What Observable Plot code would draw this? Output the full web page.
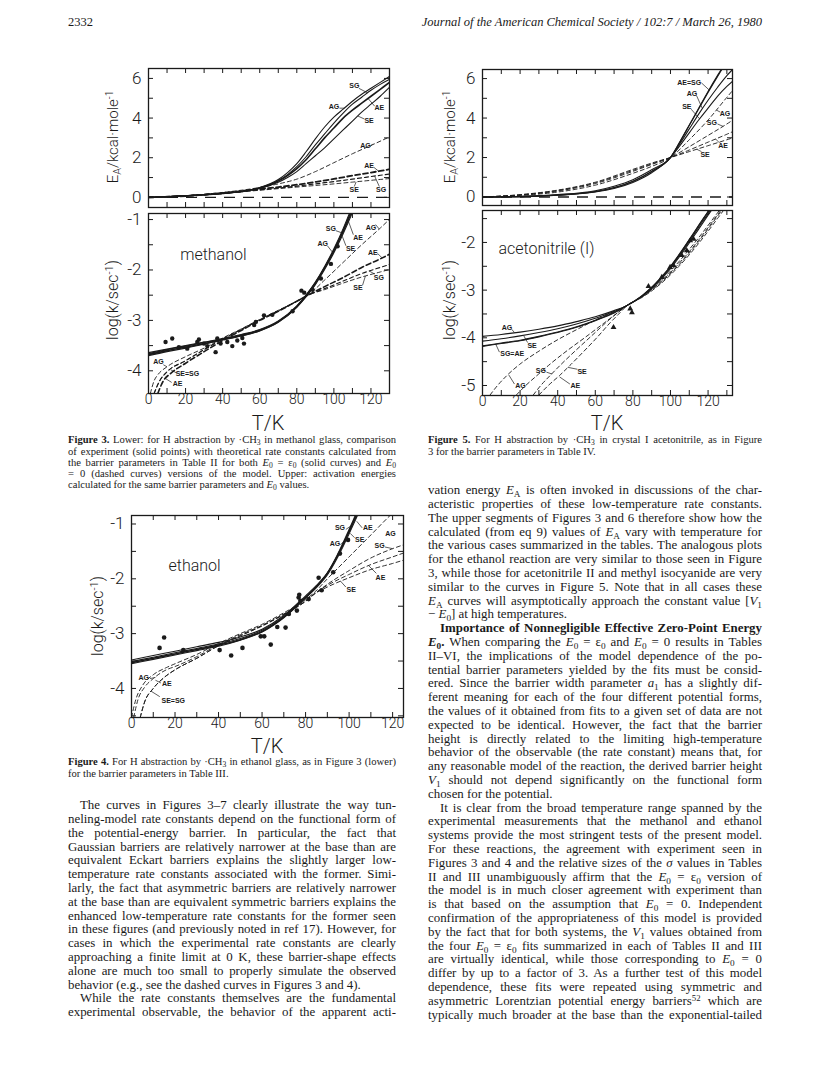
<!DOCTYPE html>
<html><head><meta charset="utf-8">
<script src="https://cdn.jsdelivr.net/npm/d3@7"></script>
<script src="https://cdn.jsdelivr.net/npm/@observablehq/plot@0.6"></script>
<style>
html,body{margin:0;padding:0;background:#fff}
body{position:relative;width:831px;height:1075px;overflow:hidden;color:#1a1a1a;font-family:"Liberation Serif","Times New Roman",serif}
.t{position:absolute;white-space:nowrap}
.j{text-align:justify;text-align-last:justify}
.l{text-align:left;text-align-last:left}
.r{text-align:right;text-align-last:right}
sub{font-size:72%;vertical-align:-0.28em;line-height:0}
sup{font-size:68%;vertical-align:0.45em;line-height:0}
.sans{font-family:Roboto,"Liberation Sans",Arial,sans-serif;font-weight:300}
.rot{position:absolute;transform:translate(-50%,-50%) rotate(-90deg);white-space:nowrap;line-height:1}
svg{position:absolute}
</style></head><body>
<script>
const INK = "#1a1a1a";
const SANS = "Roboto, 'Liberation Sans', Arial, sans-serif";

// ---------------- Figure 3 (methanol) : upper, activation energy ----------------
const f3tT   = [0, 20, 40, 50, 60, 70, 75, 80, 85, 90, 95, 100, 105, 110, 115, 120, 125, 130];
const f3tAG  = [0, .08, .2, .3, .5, .9, 1.25, 1.7, 2.3, 2.95, 3.55, 4.05, 4.45, 4.85, 5.2, 5.5, 5.8, 6.1];
const f3tSG  = [0, .08, .2, .3, .48, .85, 1.15, 1.55, 2.05, 2.65, 3.2, 3.75, 4.25, 4.7, 5.05, 5.4, 5.7, 5.95];
const f3tAE  = [0, .08, .2, .3, .47, .82, 1.1, 1.45, 1.9, 2.45, 3.0, 3.5, 4.0, 4.4, 4.75, 5.1, 5.45, 5.8];
const f3tSE  = [0, .08, .2, .3, .45, .76, 1.0, 1.3, 1.7, 2.1, 2.5, 2.95, 3.4, 3.85, 4.3, 4.7, 5.1, 5.55];
const f3tdT  = [0, 20, 40, 60, 70, 80, 90, 100, 110, 120, 130];
const f3tdAG = [0, .08, .25, .5, .68, .92, 1.3, 1.75, 2.2, 2.62, 3.05];
const f3tdAE = [0, .07, .22, .42, .52, .64, .78, .93, 1.1, 1.25, 1.42];
const f3tdSG = [0, .07, .21, .38, .47, .57, .68, .8, .92, 1.05, 1.18];
const f3tdSE = [0, .07, .2, .36, .44, .52, .6, .68, .77, .86, .95];
const f3tLabels  = [["SG",111,5.65],["AG",100,4.55],["AE",124.5,4.5],["SE",119,3.85],["AG",117,2.6],["AE",119,1.6],["SE",111,0.38],["SG",125.5,0.38]];
const f3tLeaders = [[113.5,5.5,118.2,5.27],[103,4.5,105.6,4.5],[122,4.6,118.5,4.98],[116.5,3.95,113,4.1],[119.5,2.55,121,2.7],[121.5,1.52,124,1.33],[111,0.55,112,0.78],[124.5,0.55,122,1.07]];

// ---------------- Figure 3 (methanol) : lower, log k ----------------
const f3bT   = [0, 10, 20, 30, 40, 50, 60, 70, 80, 85, 90, 95, 100, 105, 110, 115];
const f3bSG  = [-3.66,-3.58,-3.51,-3.44,-3.37,-3.29,-3.19,-3.02,-2.72,-2.50,-2.24,-1.93,-1.58,-1.18,-0.72,-0.2];
const f3bAE  = [-3.68,-3.60,-3.53,-3.46,-3.38,-3.30,-3.20,-3.03,-2.73,-2.52,-2.27,-1.96,-1.62,-1.22,-0.77,-0.25];
const f3bAG  = [-3.64,-3.57,-3.50,-3.43,-3.36,-3.28,-3.18,-3.01,-2.71,-2.50,-2.25,-1.95,-1.61,-1.24,-0.82,-0.32];
const f3bSE  = [-3.70,-3.62,-3.55,-3.47,-3.39,-3.31,-3.21,-3.04,-2.74,-2.53,-2.29,-1.99,-1.66,-1.28,-0.86,-0.38];
const f3bdAGT = [1, 3, 5, 10, 20, 30, 40, 50, 60, 70, 80, 86, 95, 105, 115, 125, 131];
const f3bdAG  = [-4.45,-4.2,-4.08,-3.92,-3.72,-3.55,-3.35,-3.17,-2.98,-2.8,-2.62,-2.5,-2.2,-1.85,-1.5,-1.17,-0.96];
const f3bdAET = [5, 8, 12, 20, 30, 40, 50, 60, 70, 80, 86, 95, 105, 115, 125, 131];
const f3bdAE  = [-4.45,-4.2,-4.05,-3.85,-3.62,-3.4,-3.2,-3.0,-2.82,-2.62,-2.5,-2.33,-2.15,-1.95,-1.78,-1.67];
const f3bdST  = [3, 6, 10, 20, 30, 40, 50, 60, 70, 80, 86, 95, 105, 115, 125, 131];
const f3bdSG  = [-4.45,-4.2,-4.02,-3.8,-3.58,-3.37,-3.18,-2.99,-2.81,-2.62,-2.5,-2.37,-2.22,-2.07,-1.95,-1.88];
const f3bdSE  = [-4.45,-4.2,-4.02,-3.8,-3.58,-3.37,-3.18,-2.99,-2.81,-2.62,-2.5,-2.39,-2.26,-2.14,-2.04,-1.98];
const methanolPts = [[9.2,-3.43],[12.8,-3.36],[16.4,-3.53],[20.9,-3.56],[26.3,-3.43],[27.2,-3.38],[29.9,-3.46],[31.7,-3.51],[36.2,-3.63],[37.1,-3.36],[38.9,-3.46],[42.5,-3.43],[45.2,-3.51],[47.9,-3.40],[50.6,-3.35],[51.5,-3.46],[57,-3.09],[57.9,-3.03],[62.3,-2.90],[66.8,-2.89],[77.7,-2.82],[82.5,-2.41],[84,-2.45],[88.5,-2.39],[93,-2.17],[98.4,-1.88],[102,-1.53]];
const f3bLabels  = [["SG",98.4,-1.18],["AE",113,-1.36],["AG",94,-1.48],["SE",109,-1.57],["AG",120,-1.16],["AE",121,-1.65],["SG",124.3,-2.15],["SE",113,-2.35],["AG",5.4,-3.83],["SE=SG",21,-4.05],["AE",15.7,-4.25]];
const f3bLeaders = [[101,-1.22,104,-1.26],[110.5,-1.3,107.5,-1.0],[96.5,-1.52,99.5,-1.66],[106.5,-1.52,104.5,-1.33],[122.5,-1.1,124.5,-1.19],[123.5,-1.67,126,-1.76],[122,-2.08,119,-2.02],[115.5,-2.3,117,-2.12],[8,-3.88,10,-3.92],[15.5,-4.05,12,-3.98],[12.5,-4.23,9,-4.15]];

// ---------------- Figure 5 (acetonitrile I) : upper ----------------
const f5tT   = [0, 20, 40, 60, 70, 80, 90, 100, 105, 110, 115, 120, 125, 130, 134];
const f5tAE  = [0, .02, .1, .28, .48, .8, 1.3, 2.0, 2.8, 3.65, 4.5, 5.35, 6.15, 6.9, 7.4];
const f5tSG  = [0, .02, .1, .27, .47, .79, 1.29, 2.0, 2.78, 3.62, 4.46, 5.3, 6.1, 6.85, 7.35];
const f5tAG  = [0, .03, .12, .32, .55, .88, 1.38, 2.0, 2.7, 3.45, 4.2, 4.9, 5.55, 6.15, 6.55];
const f5tSE  = [0, .02, .09, .25, .43, .74, 1.23, 2.0, 2.6, 3.25, 3.9, 4.5, 5.1, 5.6, 5.95];
const f5tdT  = [0, 20, 40, 60, 80, 90, 100, 110, 120, 130, 134];
const f5tdAG = [0, .08, .25, .6, 1.2, 1.55, 2.0, 2.9, 3.9, 5.05, 5.5];
const f5tdSG = [0, .1, .3, .68, 1.3, 1.65, 2.0, 2.55, 3.12, 3.7, 3.95];
const f5tdAE = [0, .11, .33, .72, 1.35, 1.68, 2.0, 2.38, 2.78, 3.18, 3.35];
const f5tdSE = [0, .12, .35, .75, 1.4, 1.72, 2.0, 2.3, 2.6, 2.9, 3.02];
const f5tLabels  = [["AE=SG",110,5.81],["AG",111.4,5.22],["SE",108.7,4.55],["AG",129,4.24],["SG",122,3.74],["AE",128,2.6],["SE",118.4,2.15]];
const f5tLeaders = [[116.5,5.78,120.5,5.43],[113.8,5.15,117,4.48],[111,4.45,115.5,3.96],[126.5,4.3,124.5,4.4],[125,3.7,128,3.58],[126,2.75,124,2.94],[116.5,2.3,114,2.42]];

// ---------------- Figure 5 (acetonitrile I) : lower ----------------
const f5bT    = [0, 10, 20, 30, 40, 50, 60, 70, 77, 85, 90, 95, 100, 105, 110, 115, 120, 125, 128];
const f5bAG   = [-3.97,-3.93,-3.88,-3.82,-3.75,-3.66,-3.56,-3.43,-3.32,-3.12,-2.95,-2.75,-2.52,-2.26,-1.98,-1.68,-1.40,-1.10,-0.95];
const f5bSE   = [-4.07,-4.02,-3.96,-3.89,-3.81,-3.71,-3.59,-3.45,-3.32,-3.13,-2.97,-2.77,-2.55,-2.29,-2.01,-1.72,-1.43,-1.14,-0.98];
const f5bSG   = [-4.17,-4.11,-4.05,-3.97,-3.88,-3.77,-3.63,-3.47,-3.32,-3.11,-2.94,-2.73,-2.50,-2.23,-1.94,-1.64,-1.35,-1.05,-0.90];
const f5bAE   = [-4.18,-4.12,-4.06,-3.98,-3.89,-3.78,-3.64,-3.48,-3.32,-3.12,-2.95,-2.74,-2.51,-2.24,-1.95,-1.65,-1.36,-1.06,-0.91];
const f5bdAGT = [4, 8, 13, 20, 30, 40, 50, 60, 70, 77, 85, 95, 105, 115, 125, 130];
const f5bdAG  = [-5.2,-5.0,-4.79,-4.55,-4.28,-4.04,-3.83,-3.63,-3.45,-3.32,-3.12,-2.8,-2.38,-1.9,-1.38,-1.12];
const f5bdSGT = [18, 23, 29, 36, 45, 55, 65, 72, 77, 85, 95, 105, 115, 125, 130];
const f5bdSG  = [-5.2,-5.0,-4.79,-4.55,-4.27,-3.98,-3.68,-3.47,-3.32,-3.13,-2.82,-2.42,-1.95,-1.42,-1.15];
const f5bdAET = [27, 31, 36, 42, 50, 58, 66, 72, 77, 85, 95, 105, 115, 125, 130];
const f5bdAE  = [-5.2,-5.0,-4.79,-4.55,-4.25,-3.96,-3.67,-3.47,-3.32,-3.14,-2.84,-2.45,-1.98,-1.45,-1.18];
const f5bdSET = [30, 35, 41, 47, 54, 61, 68, 73, 77, 85, 95, 105, 115, 125, 130];
const f5bdSE  = [-5.2,-5.0,-4.79,-4.56,-4.28,-3.99,-3.68,-3.48,-3.32,-3.15,-2.86,-2.48,-2.02,-1.5,-1.23];
const acetoPts = [[69.7,-3.78],[78.6,-3.39],[79.5,-3.47],[88.3,-2.92],[95.4,-2.73],[99.8,-2.52],[101.6,-2.48],[106,-2.27],[108.7,-2.17],[110.5,-1.96],[112.3,-1.93]];
const f5bLabels  = [["AG",13,-3.78],["SE",26.4,-4.16],["SG=AE",15.8,-4.33],["SG",31,-4.7],["SE",53,-4.72],["AG",20.2,-5.0],["AE",49.4,-5.0]];
const f5bLeaders = [[15.5,-3.82,17,-3.89],[24,-4.1,22,-3.96],[9,-4.3,7,-4.13],[34,-4.72,37,-4.76],[50.5,-4.66,45.5,-4.62],[17,-4.97,14,-4.78],[46.5,-4.97,41,-4.82]];

// ---------------- Figure 4 (ethanol) ----------------
const f4T   = [0, 10, 20, 30, 40, 50, 60, 70, 80, 85, 90, 95, 100, 103, 106];
const f4AG  = [-3.48,-3.40,-3.32,-3.24,-3.16,-3.06,-2.92,-2.67,-2.31,-2.12,-1.89,-1.55,-1.15,-0.89,-0.62];
const f4SG  = [-3.51,-3.43,-3.35,-3.27,-3.19,-3.09,-2.94,-2.69,-2.33,-2.14,-1.90,-1.55,-1.13,-0.86,-0.58];
const f4AE  = [-3.53,-3.45,-3.37,-3.29,-3.21,-3.11,-2.96,-2.70,-2.34,-2.14,-1.90,-1.54,-1.11,-0.84,-0.55];
const f4SE  = [-3.55,-3.47,-3.39,-3.31,-3.23,-3.12,-2.97,-2.71,-2.35,-2.16,-1.93,-1.59,-1.18,-0.92,-0.65];
const f4dAGT = [0, 2, 5, 10, 16, 20, 30, 40, 50, 60, 70, 80, 84, 90, 100, 110, 120, 125];
const f4dAG  = [-4.53,-4.2,-3.95,-3.75,-3.62,-3.55,-3.38,-3.18,-3.0,-2.83,-2.62,-2.38,-2.25,-2.0,-1.6,-1.2,-0.8,-0.62];
const f4dAET = [1, 3, 6, 10, 16, 20, 30, 40, 50, 60, 70, 80, 84, 90, 100, 110, 120, 125];
const f4dAE  = [-4.53,-4.2,-3.98,-3.82,-3.66,-3.6,-3.42,-3.2,-3.02,-2.85,-2.64,-2.4,-2.27,-2.12,-1.92,-1.74,-1.6,-1.53];
const f4dST  = [4, 6, 10, 15, 20, 30, 40, 50, 60, 70, 80, 84, 90, 100, 110, 120, 125];
const f4dSG  = [-4.53,-4.25,-4.0,-3.8,-3.66,-3.45,-3.22,-3.04,-2.86,-2.65,-2.41,-2.28,-2.1,-1.85,-1.62,-1.45,-1.38];
const f4dSE  = [-4.53,-4.25,-4.0,-3.8,-3.66,-3.45,-3.22,-3.04,-2.86,-2.65,-2.41,-2.28,-2.15,-1.98,-1.83,-1.72,-1.66];
const ethanolPts = [[12.9,-3.26],[15,-3.07],[23.8,-3.30],[40.5,-3.30],[45.8,-3.40],[51,-3.26],[59.4,-3.05],[61,-3.05],[64,-3.20],[67,-2.88],[70.8,-2.89],[72.3,-2.64],[76,-2.58],[76.8,-2.34],[77.1,-2.29],[77.6,-2.40],[81.4,-2.37],[86,-1.98],[87.4,-2.21],[92.7,-1.88],[95.8,-1.54],[99.5,-1.29]];
const f4Labels  = [["SG",95.8,-1.06],["AE",108.6,-1.06],["AG",93.5,-1.36],["SE",104.9,-1.29],["AG",119,-1.18],["SG",114,-1.39],["AE",114.4,-1.98],["SE",101,-2.2],["AG",5.6,-3.8],["AE",16.2,-3.92],["SE=SG",19.2,-4.22]];
const f4Leaders = [[98.5,-1.1,101,-1.03],[106,-1.07,103.5,-0.95],[96,-1.38,98,-1.3],[102.5,-1.25,100.5,-1.17],[116.5,-1.42,120,-1.45],[112.5,-1.9,109,-1.76],[98.5,-2.15,96,-2.04],[8.5,-3.82,11,-3.8],[13.5,-3.9,11,-3.85],[13,-4.15,9,-4.05]];

const xTickVals = [0,10,20,30,40,50,60,70,80,90,100,110,120,130];
const xLabelVals = [0,20,40,60,80,100,120];

// ---------------- text ----------------
const headerLeft = "2332";
const headerRight = "Journal of the American Chemical Society / 102:7 / March 26, 1980";
const cap3 = [
 "<b>Figure 3.</b> Lower: for H abstraction by ·CH<sub>3</sub> in methanol glass, comparison",
 "of experiment (solid points) with theoretical rate constants calculated from",
 "the barrier parameters in Table II for both <i>E</i><sub>0</sub> = ε<sub>0</sub> (solid curves) and <i>E</i><sub>0</sub>",
 "= 0 (dashed curves) versions of the model. Upper: activation energies",
 "calculated for the same barrier parameters and <i>E</i><sub>0</sub> values.¶"];
const cap5 = [
 "<b>Figure 5.</b> For H abstraction by ·CH<sub>3</sub> in crystal I acetonitrile, as in Figure",
 "3 for the barrier parameters in Table IV.¶"];
const cap4 = [
 "<b>Figure 4.</b> For H abstraction by ·CH<sub>3</sub> in ethanol glass, as in Figure 3 (lower)",
 "for the barrier parameters in Table III.¶"];
const leftBody = [
 "»The curves in Figures 3–7 clearly illustrate the way tun-",
 "neling-model rate constants depend on the functional form of",
 "the potential-energy barrier. In particular, the fact that",
 "Gaussian barriers are relatively narrower at the base than are",
 "equivalent Eckart barriers explains the slightly larger low-",
 "temperature rate constants associated with the former. Simi-",
 "larly, the fact that asymmetric barriers are relatively narrower",
 "at the base than are equivalent symmetric barriers explains the",
 "enhanced low-temperature rate constants for the former seen",
 "in these figures (and previously noted in ref 17). However, for",
 "cases in which the experimental rate constants are clearly",
 "approaching a finite limit at 0 K, these barrier-shape effects",
 "alone are much too small to properly simulate the observed",
 "behavior (e.g., see the dashed curves in Figures 3 and 4).¶",
 "»While the rate constants themselves are the fundamental",
 "experimental observable, the behavior of the apparent acti-"];
const rightBody = [
 "vation energy <i>E</i><sub>A</sub> is often invoked in discussions of the char-",
 "acteristic properties of these low-temperature rate constants.",
 "The upper segments of Figures 3 and 6 therefore show how the",
 "calculated (from eq 9) values of <i>E</i><sub>A</sub> vary with temperature for",
 "the various cases summarized in the tables. The analogous plots",
 "for the ethanol reaction are very similar to those seen in Figure",
 "3, while those for acetonitrile II and methyl isocyanide are very",
 "similar to the curves in Figure 5. Note that in all cases these",
 "<i>E</i><sub>A</sub> curves will asymptotically approach the constant value [<i>V</i><sub>1</sub>",
 "− <i>E</i><sub>0</sub>] at high temperatures.¶",
 "»<b>Importance of Nonnegligible Effective Zero-Point Energy</b>",
 "<b><i>E</i><sub>0</sub>.</b> When comparing the <i>E</i><sub>0</sub> = ε<sub>0</sub> and <i>E</i><sub>0</sub> = 0 results in Tables",
 "II–VI, the implications of the model dependence of the po-",
 "tential barrier parameters yielded by the fits must be consid-",
 "ered. Since the barrier width parameter <i>a</i><sub>1</sub> has a slightly dif-",
 "ferent meaning for each of the four different potential forms,",
 "the values of it obtained from fits to a given set of data are not",
 "expected to be identical. However, the fact that the barrier",
 "height is directly related to the limiting high-temperature",
 "behavior of the observable (the rate constant) means that, for",
 "any reasonable model of the reaction, the derived barrier height",
 "<i>V</i><sub>1</sub> should not depend significantly on the functional form",
 "chosen for the potential.¶",
 "»It is clear from the broad temperature range spanned by the",
 "experimental measurements that the methanol and ethanol",
 "systems provide the most stringent tests of the present model.",
 "For these reactions, the agreement with experiment seen in",
 "Figures 3 and 4 and the relative sizes of the <i>σ</i> values in Tables",
 "II and III unambiguously affirm that the <i>E</i><sub>0</sub> = ε<sub>0</sub> version of",
 "the model is in much closer agreement with experiment than",
 "is that based on the assumption that <i>E</i><sub>0</sub> = 0. Independent",
 "confirmation of the appropriateness of this model is provided",
 "by the fact that for both systems, the <i>V</i><sub>1</sub> values obtained from",
 "the four <i>E</i><sub>0</sub> = ε<sub>0</sub> fits summarized in each of Tables II and III",
 "are virtually identical, while those corresponding to <i>E</i><sub>0</sub> = 0",
 "differ by up to a factor of 3. As a further test of this model",
 "dependence, these fits were repeated using symmetric and",
 "asymmetric Lorentzian potential energy barriers<sup>52</sup> which are",
 "typically much broader at the base than the exponential-tailed"];

// ---------------- helpers ----------------
function series(T, V) { return T.map((t, i) => ({T: t, v: V[i]})); }
function addDiv(html, left, cy, width, lh, fs, cls) {
  const d = document.createElement("div");
  d.className = "t " + cls;
  d.style.left = left + "px"; d.style.top = (cy - lh / 2) + "px";
  if (width) d.style.width = width + "px";
  d.style.lineHeight = lh + "px"; d.style.fontSize = fs + "px";
  d.innerHTML = html; document.body.append(d);
  if (width) {
    const sw = d.scrollWidth;
    if (sw > width + 0.5) {
      const n = d.textContent.length;
      d.style.letterSpacing = ((width - sw - 1) / n) + "px";
    }
  }
  return d;
}
function column(lines, left, y0, width, lh, fs, indent) {
  lines.forEach((s, i) => {
    let ind = 0, last = false;
    if (s.startsWith("»")) { ind = indent; s = s.slice(1); }
    if (s.endsWith("¶")) { last = true; s = s.slice(0, -1); }
    addDiv(s, left + ind, y0 + i * lh, width - ind, lh, fs, last ? "l" : "j");
  });
}
function rotLabel(html, cx, cy, fs) {
  const d = document.createElement("div");
  d.className = "rot sans"; d.style.left = cx + "px"; d.style.top = cy + "px"; d.style.fontSize = fs + "px";
  d.innerHTML = html; document.body.append(d);
}
function sansLabel(html, cx, cy, fs) {
  const d = document.createElement("div");
  d.className = "t sans"; d.style.left = cx + "px"; d.style.top = cy + "px"; d.style.fontSize = fs + "px";
  d.style.lineHeight = "1"; d.style.transform = "translate(-50%,-50%)"; d.innerHTML = html; document.body.append(d);
}
const range = (a, b, s) => d3.range(a, b + s / 2, s);

function panel(p) {
  const [fl, ft, fr, fb] = p.frame, [sl, st, sr, sb] = p.box;
  const fw = fr - fl, fh = fb - ft, tk = 5;
  const marks = [];
  marks.push(Plot.tickX(p.xTicks, {x: d => d, insetBottom: fh - tk, stroke: INK, strokeWidth: 1}));
  marks.push(Plot.tickX(p.xTicks, {x: d => d, insetTop: fh - tk, stroke: INK, strokeWidth: 1}));
  marks.push(Plot.tickY(p.yTicks, {y: d => d, insetRight: fw - tk, stroke: INK, strokeWidth: 1}));
  marks.push(Plot.tickY(p.yTicks, {y: d => d, insetLeft: fw - tk, stroke: INK, strokeWidth: 1}));
  if (p.zeroDash) marks.push(Plot.ruleY([0], {stroke: INK, strokeWidth: 1.3, strokeDasharray: "11,8"}));
  for (const c of p.curves)
    marks.push(Plot.line(c.d, {x: "T", y: "v", curve: "monotone-x", stroke: INK, strokeWidth: c.w || 1.1, strokeDasharray: c.dash ? (c.dashStyle || "4,3") : null, clip: true}));
  if (p.points) marks.push(Plot.dot(p.points, {x: d => d[0], y: d => d[1], r: p.pointR || 2.2, fill: INK, stroke: "none", symbol: p.symbol || "circle", clip: true}));
  if (p.leaders) marks.push(Plot.link(p.leaders, {x1: d => d[0], y1: d => d[1], x2: d => d[2], y2: d => d[3], stroke: INK, strokeWidth: 0.7}));
  if (p.labels) marks.push(Plot.text(p.labels, {x: d => d[1], y: d => d[2], text: d => d[0], fontSize: 7, fontWeight: "bold", fontFamily: "'Liberation Sans', Arial, sans-serif", fill: INK}));
  if (p.name) marks.push(Plot.text([p.name], {x: d => d[1], y: d => d[2], text: d => d[0], fontSize: 16, fontFamily: SANS, fontWeight: 300, fill: INK}));
  marks.push(Plot.text(p.yLabels, {y: d => d, text: d => d < 0 ? "-" + (-d) : String(d), frameAnchor: "left", textAnchor: "end", dx: -7, fontSize: 17, fontFamily: SANS, fontWeight: 300, fill: INK}));
  if (p.xLabels) marks.push(Plot.text(p.xLabels, {x: d => d, text: d => String(d), frameAnchor: "bottom", dy: 10, fontSize: 14, fontFamily: SANS, fontWeight: 300, fill: INK}));
  marks.push(Plot.frame({stroke: INK, strokeWidth: 1.3}));
  const svg = Plot.plot({
    width: sr - sl, height: sb - st,
    marginLeft: fl - sl, marginRight: sr - fr, marginTop: ft - st, marginBottom: sb - fb,
    x: {domain: p.xDomain, axis: null}, y: {domain: p.yDomain, axis: null},
    style: {background: "none", color: INK, overflow: "visible", fontFamily: SANS},
    marks
  });
  svg.style.left = sl + "px"; svg.style.top = st + "px";
  document.body.append(svg);
}

// ---------------- panels ----------------
panel({frame: [148, 68, 389, 207], box: [100, 60, 400, 212], xDomain: [0, 130], yDomain: [-0.51, 6.5],
  xTicks: xTickVals, yTicks: range(0, 6, 1), yLabels: [6, 4, 2, 0], zeroDash: true,
  curves: [
    {d: series(f3tT, f3tAG)}, {d: series(f3tT, f3tSG)}, {d: series(f3tT, f3tAE), w: 1.6}, {d: series(f3tT, f3tSE)},
    {d: series(f3tdT, f3tdAG), dash: 1, w: 0.9}, {d: series(f3tdT, f3tdAE), dash: 1, w: 1.8, dashStyle: "5,3"},
    {d: series(f3tdT, f3tdSG), dash: 1, w: 1.2}, {d: series(f3tdT, f3tdSE), dash: 1, w: 0.9}],
  labels: f3tLabels, leaders: f3tLeaders});

panel({frame: [148, 213, 389, 393], box: [100, 209, 400, 412], xDomain: [0, 130], yDomain: [-4.45, -0.88],
  xTicks: xTickVals, yTicks: range(-4, -1, 0.5), yLabels: [-1, -2, -3, -4], xLabels: xLabelVals,
  curves: [
    {d: series(f3bT, f3bSG)}, {d: series(f3bT, f3bAE), w: 1.6}, {d: series(f3bT, f3bAG)}, {d: series(f3bT, f3bSE)},
    {d: series(f3bdAGT, f3bdAG), dash: 1, w: 0.9}, {d: series(f3bdAET, f3bdAE), dash: 1, w: 1.6, dashStyle: "5,3"},
    {d: series(f3bdST, f3bdSG), dash: 1, w: 1.1}, {d: series(f3bdST, f3bdSE), dash: 1, w: 0.9}],
  points: methanolPts, pointR: 2.2, labels: f3bLabels, leaders: f3bLeaders, name: ["methanol", 35, -1.71]});

panel({frame: [482, 69, 732, 205], box: [434, 61, 745, 210], xDomain: [0, 133], yDomain: [-0.43, 6.46],
  xTicks: xTickVals, yTicks: range(0, 6, 1), yLabels: [6, 4, 2, 0], zeroDash: true,
  curves: [
    {d: series(f5tT, f5tAE)}, {d: series(f5tT, f5tSG)}, {d: series(f5tT, f5tAG)}, {d: series(f5tT, f5tSE)},
    {d: series(f5tdT, f5tdAG), dash: 1, w: 0.9}, {d: series(f5tdT, f5tdSG), dash: 1, w: 0.9},
    {d: series(f5tdT, f5tdAE), dash: 1, w: 0.9}, {d: series(f5tdT, f5tdSE), dash: 1, w: 0.9}],
  labels: f5tLabels, leaders: f5tLeaders});

panel({frame: [482, 210, 732, 395], box: [434, 206, 745, 412], xDomain: [0, 133], yDomain: [-5.21, -1.33],
  xTicks: xTickVals, yTicks: range(-5, -1.5, 0.5), yLabels: [-2, -3, -4, -5], xLabels: xLabelVals,
  curves: [
    {d: series(f5bT, f5bAG)}, {d: series(f5bT, f5bSE)}, {d: series(f5bT, f5bSG)}, {d: series(f5bT, f5bAE)},
    {d: series(f5bdAGT, f5bdAG), dash: 1, w: 0.9}, {d: series(f5bdSGT, f5bdSG), dash: 1, w: 0.9},
    {d: series(f5bdAET, f5bdAE), dash: 1, w: 0.9}, {d: series(f5bdSET, f5bdSE), dash: 1, w: 0.9}],
  points: acetoPts, pointR: 2.8, symbol: "triangle2", labels: f5bLabels, leaders: f5bLeaders, name: ["acetonitrile (I)", 34, -2.13]});

panel({frame: [131, 515, 403, 717], box: [83, 505, 415, 735], xDomain: [0, 125], yDomain: [-4.53, -0.845],
  xTicks: xTickVals.filter(d => d <= 120), yTicks: range(-4.5, -1, 0.5), yLabels: [-1, -2, -3, -4], xLabels: xLabelVals,
  curves: [
    {d: series(f4T, f4AG)}, {d: series(f4T, f4SG)}, {d: series(f4T, f4AE), w: 1.6}, {d: series(f4T, f4SE)},
    {d: series(f4dAGT, f4dAG), dash: 1, w: 0.9}, {d: series(f4dAET, f4dAE), dash: 1, w: 0.9},
    {d: series(f4dST, f4dSG), dash: 1, w: 0.9}, {d: series(f4dST, f4dSE), dash: 1, w: 0.9}],
  points: ethanolPts, pointR: 2.3, labels: f4Labels, leaders: f4Leaders, name: ["ethanol", 29, -1.76]});

// axis titles
rotLabel("E<sub>A</sub>/kcal·mole<sup>-1</sup>", 113, 137, 15);
rotLabel("log(k/sec<sup>-1</sup>)", 113, 300, 16);
rotLabel("E<sub>A</sub>/kcal·mole<sup>-1</sup>", 450, 137, 15);
rotLabel("log(k/sec<sup>-1</sup>)", 450, 300, 16);
rotLabel("log(k/sec<sup>-1</sup>)", 98, 616, 16);
sansLabel("T/K", 268, 423, 20);
sansLabel("T/K", 607, 423, 20);
sansLabel("T/K", 267, 746, 20);

// header, captions, body
addDiv(headerLeft, 68, 22, null, 14, 12.5, "l");
addDiv("<i>" + headerRight + "</i>", 362, 22, 400, 14, 12.5, "r");
column(cap3, 68, 440, 328, 11.1, 10.6, 0);
column(cap5, 428, 440, 334, 11.1, 10.6, 0);
column(cap4, 68, 762, 328, 11.1, 10.6, 0);
column(leftBody, 68, 806, 328, 13.8, 12.9, 12);
column(rightBody, 428, 491, 334, 13.8, 12.9, 12);
</script>
</body></html>
